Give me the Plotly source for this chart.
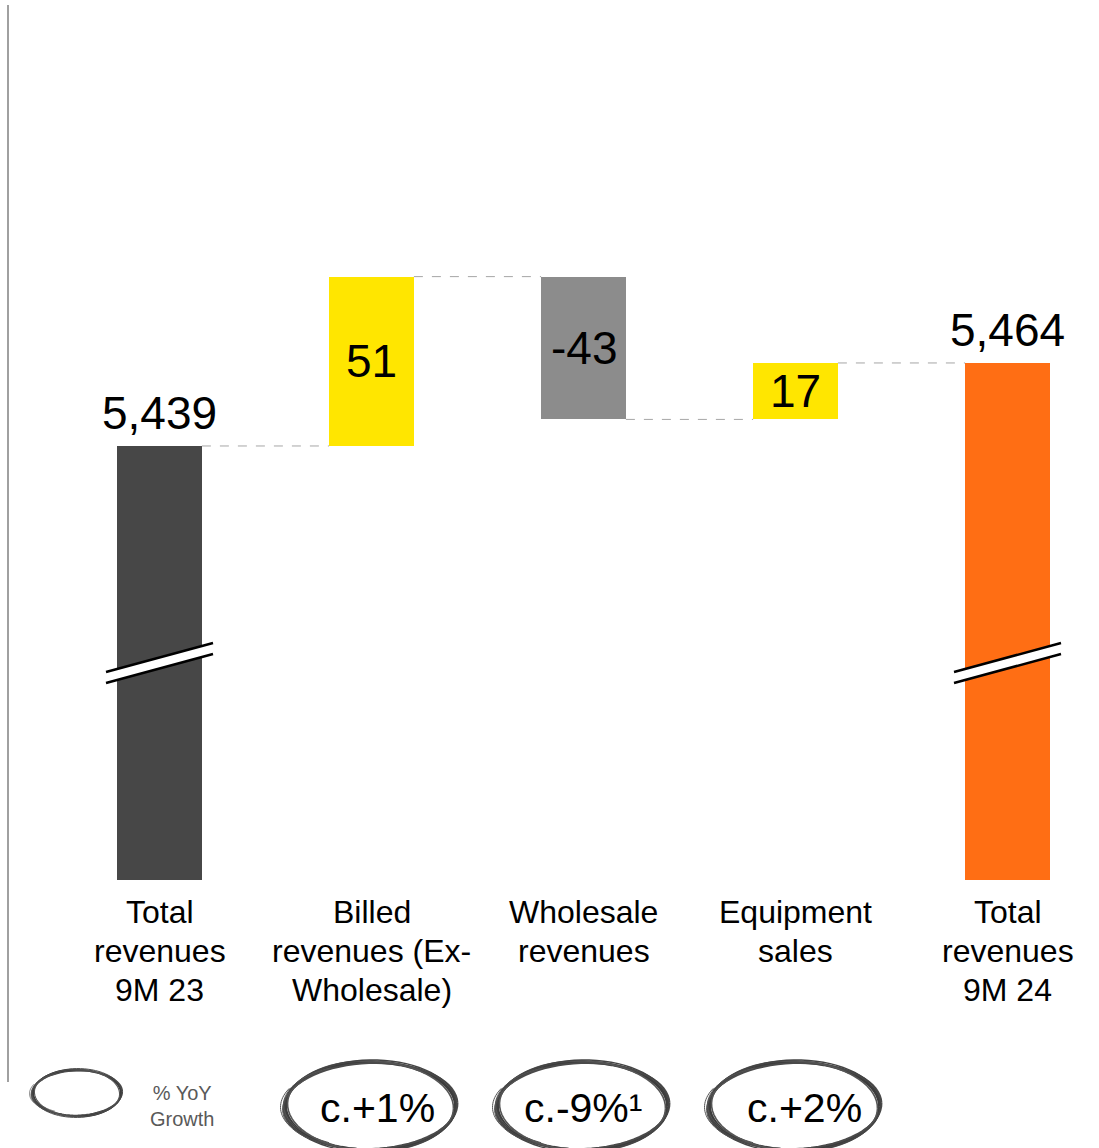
import math
import plotly.graph_objects as go

# ---------------- data ----------------
categories = ["Total revenues 9M 23", "Billed revenues (Ex-Wholesale)",
              "Wholesale revenues", "Equipment sales", "Total revenues 9M 24"]
label_lines = [["Total", "revenues", "9M 23"],
               ["Billed", "revenues (Ex-", "Wholesale)"],
               ["Wholesale", "revenues"],
               ["Equipment", "sales"],
               ["Total", "revenues", "9M 24"]]
values = [5439, 51, -43, 17, 5464]
measures = ["total", "relative", "relative", "relative", "total"]
value_text = ["5,439", "51", "-43", "17", "5,464"]
growth_text = [None, "c.+1%", "c.-9%\u00b9", "c.+2%", None]
bar_colors = ["#474747", "#FFE600", "#8C8C8C", "#FFE600", "#FF6E14"]

# ---------------- geometry ----------------
W, H = 1099, 1148
PLOT_BOTTOM = 880
def px2x(px):
    return px / W
def py2y(py):
    return (PLOT_BOTTOM - py) / PLOT_BOTTOM

xs = list(range(len(values)))
bases, running = [], 0
ends = []
for v, m in zip(values, measures):
    if m == "total":
        bases.append(0)
        running = v
    else:
        bases.append(running)
        running += v
    ends.append(running)

BW = 0.4
fig = go.Figure()
fig.add_trace(go.Bar(x=xs, y=values, base=bases, width=BW,
                     marker=dict(color=bar_colors, line=dict(width=0)),
                     hoverinfo="skip", showlegend=False))

shapes = []
# connectors
for i in range(len(values) - 1):
    shapes.append(dict(type="line", xref="x", yref="y",
                       x0=xs[i] + BW / 2, x1=xs[i + 1] - BW / 2,
                       y0=ends[i], y1=ends[i],
                       line=dict(color="#A6A6A6", width=1, dash="dash")))

# axis break marks on total bars
for i, m in enumerate(measures):
    if m != "total":
        continue
    cx = 159.5 + 212 * i
    xl, xr = cx - 53.5, cx + 53.5
    top_l, top_r = 672, 643
    gap = 11
    path = (f"M {px2x(xl)},{py2y(top_l)} L {px2x(xr)},{py2y(top_r)} "
            f"L {px2x(xr)},{py2y(top_r+gap)} L {px2x(xl)},{py2y(top_l+gap)} Z")
    shapes.append(dict(type="path", xref="paper", yref="paper", path=path,
                       fillcolor="white", line=dict(width=0), layer="above"))
    for off in (0, gap):
        shapes.append(dict(type="line", xref="paper", yref="paper",
                           x0=px2x(xl), y0=py2y(top_l + off),
                           x1=px2x(xr), y1=py2y(top_r + off),
                           line=dict(color="black", width=2.5), layer="above"))

# left vertical rule
shapes.append(dict(type="line", xref="paper", yref="paper",
                   x0=px2x(8), x1=px2x(8), y0=py2y(5), y1=py2y(1082),
                   line=dict(color="#A0A0A0", width=2)))

def ellipse_path(cx, cy, rx, ry, rot_deg, a0=0.0, a1=2 * math.pi, n=72):
    r = math.radians(rot_deg)
    pts = []
    for k in range(n + 1):
        t = a0 + (a1 - a0) * k / n
        ex, ey = rx * math.cos(t), ry * math.sin(t)
        X = cx + ex * math.cos(r) - ey * math.sin(r)
        Y = cy + ex * math.sin(r) + ey * math.cos(r)
        pts.append(f"{px2x(X):.5f},{py2y(Y):.5f}")
    return "M " + " L ".join(pts)

sketch = [(0, 0, 0, 3.0, "#3C3C3C"), (2, -1, -2.0, 2.0, "#4A4A4A"),
          (-2, 1, 2.0, 1.6, "#555555"), (1, 2, -1.0, 1.4, "#444444")]

def sketch_ellipse(cx, cy, rx, ry, scale=1.0):
    for drx, dry, rot, w, col in sketch:
        shapes.append(dict(type="path", xref="paper", yref="paper",
                           path=ellipse_path(cx, cy, rx + drx * scale, ry + dry * scale, rot),
                           line=dict(color=col, width=w * scale)))
    # scribble on left side
    for k, (d, a) in enumerate([(-3, 0.25), (-5, 0.15), (-2, 0.35)]):
        shapes.append(dict(type="path", xref="paper", yref="paper",
                           path=ellipse_path(cx + d * scale, cy, rx, ry - 2, -3 + k * 2,
                                             math.pi * (1 - a), math.pi * (1 + a), n=20),
                           line=dict(color="#555555", width=1 * scale)))

annotations = []
FONT = "Arial, Liberation Sans, sans-serif"

# value labels
for i, (v, m, t) in enumerate(zip(values, measures, value_text)):
    if m == "total":
        annotations.append(dict(x=xs[i], y=v, xref="x", yref="y", text=t,
                                showarrow=False, xanchor="center", yanchor="middle", yshift=33,
                                font=dict(family=FONT, size=46, color="black")))
    else:
        annotations.append(dict(x=xs[i], y=bases[i] + v / 2, xref="x", yref="y", text=t,
                                showarrow=False, xanchor="center", yanchor="middle",
                                font=dict(family=FONT, size=46, color="black")))

# category labels
for i, lines in enumerate(label_lines):
    for j, line in enumerate(lines):
        annotations.append(dict(x=xs[i], y=py2y(912 + 39 * j), xref="x", yref="paper",
                                text=line, showarrow=False, xanchor="center", yanchor="middle",
                                font=dict(family=FONT, size=32, color="black")))

# growth ellipses
text_offsets = [0, 7, 0, 10, 0]
for i, g in enumerate(growth_text):
    if g is None:
        continue
    cx = 159.5 + 212 * i - 1
    sketch_ellipse(cx, 1106, 85, 44)
    annotations.append(dict(x=px2x(cx + text_offsets[i]), y=py2y(1108), xref="paper", yref="paper",
                            text=g, showarrow=False, xanchor="center", yanchor="middle",
                            font=dict(family=FONT, size=41, color="black")))

# legend
sketch_ellipse(77, 1093, 44, 23, scale=0.7)
annotations.append(dict(x=px2x(182), y=py2y(1106), xref="paper", yref="paper",
                        text="% YoY<br>Growth", showarrow=False, xanchor="center",
                        yanchor="middle", align="center",
                        font=dict(family=FONT, size=20, color="#595959")))

fig.update_layout(
    width=W, height=H,
    margin=dict(l=0, r=0, t=0, b=H - PLOT_BOTTOM, pad=0),
    paper_bgcolor="white", plot_bgcolor="white",
    xaxis=dict(range=[-159.5 / 212, (W - 159.5) / 212], visible=False, fixedrange=True),
    yaxis=dict(range=[5308.3, 5573.3], visible=False, fixedrange=True),
    shapes=shapes, annotations=annotations, showlegend=False, bargap=0,
)

fig.write_html("out.html", config={"displayModeBar": False},
               post_script="document.body.style.margin='0';document.body.style.overflow='hidden';")
